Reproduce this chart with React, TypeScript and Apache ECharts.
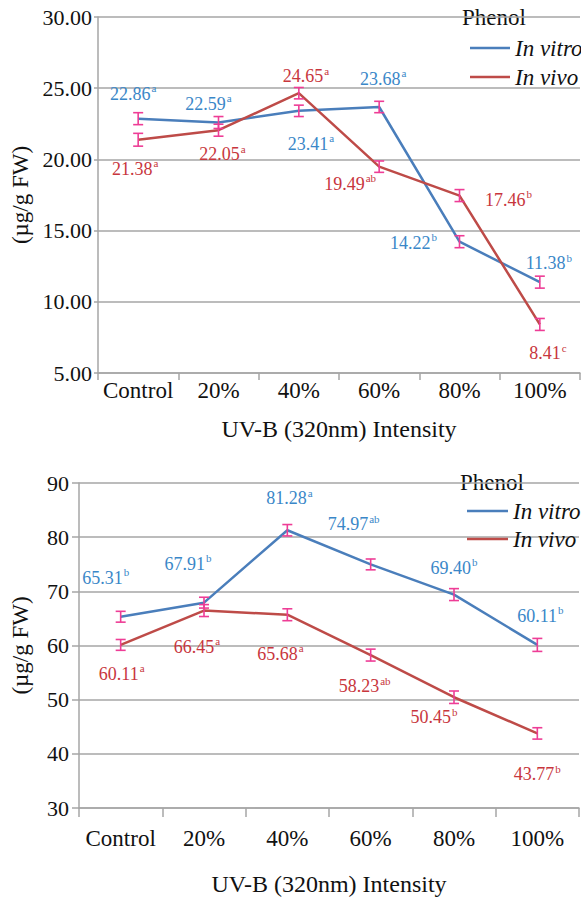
import React, { useEffect, useRef } from "react";
import * as echarts from "echarts";

const categories = ["Control", "20%", "40%", "60%", "80%", "100%"];

// Top chart
const topVitro = [22.86, 22.59, 23.41, 23.68, 14.22, 11.38];
const topVivo = [21.38, 22.05, 24.65, 19.49, 17.46, 8.41];
const topVitroErr = [0.42, 0.42, 0.4, 0.4, 0.42, 0.42];
const topVivoErr = [0.45, 0.42, 0.4, 0.4, 0.42, 0.42];
const topVitroLetters = ["a", "a", "a", "a", "b", "b"];
const topVivoLetters = ["a", "a", "a", "ab", "b", "c"];

// Bottom chart
const bottomVitro = [65.31, 67.91, 81.28, 74.97, 69.4, 60.11];
const bottomVivo = [60.11, 66.45, 65.68, 58.23, 50.45, 43.77];
const bottomVitroErr = [1.0, 1.0, 1.05, 1.0, 1.1, 1.2];
const bottomVivoErr = [1.0, 1.1, 1.1, 1.1, 1.15, 1.05];
const bottomVitroLetters = ["b", "b", "a", "ab", "b", "b"];
const bottomVivoLetters = ["a", "a", "a", "ab", "b", "b"];

// label offsets (style)
const topVitroLabelOffset = [[-5, -26], [-10, -20], [12, 32], [4, -29], [-46, 0], [9, -20]];
const topVivoLabelOffset = [[-3, 28], [4, 23], [7, -18], [-29, 16], [49, 3], [8, 28]];
const bottomVitroLabelOffset = [[-15, -40], [-16, -40], [2, -33], [-17, -41], [0, -28], [3, -30]];
const bottomVivoLabelOffset = [[1, 28], [-7, 35], [-7, 38], [-6, 30], [-20, 19], [0, 40]];

const FONT = "Liberation Serif, Times New Roman, serif";
const BLUE = "#4A7EBB";
const RED = "#BE4B48";
const BLUE_TXT = "#3A87C8";
const RED_TXT = "#C8363D";
const ERR = "#EE3D96";
const GRID = "#A6A6A6";

function lineSeries(name: string, values: number[], letters: string[], offsets: number[][], color: string, txtColor: string, idx: number) {
  return {
    type: "line",
    name,
    xAxisIndex: idx,
    yAxisIndex: idx,
    color,
    lineStyle: { color, width: 2.5 },
    itemStyle: { color },
    symbol: "circle",
    symbolSize: 0,
    z: 3,
    data: values.map((v, i) => ({
      value: v,
      label: {
        show: true,
        position: "inside",
        offset: offsets[i],
        align: "center",
        verticalAlign: "middle",
        fontFamily: FONT,
        formatter: `{v|${v.toFixed(2)}}{s|${letters[i]}}`,
        rich: {
          v: { fontSize: 18, fontFamily: FONT, color: txtColor, lineHeight: 20, verticalAlign: "bottom" },
          s: { fontSize: 11, fontFamily: FONT, color: txtColor, lineHeight: 20, verticalAlign: "top", padding: [0, 0, 0, 1] },
        },
      },
    })),
  };
}

function errSeries(name: string, values: number[], errs: number[], idx: number) {
  return {
    type: "custom",
    name,
    xAxisIndex: idx,
    yAxisIndex: idx,
    z: 5,
    encode: { x: 0, y: [1, 2] },
    data: values.map((v, i) => [i, v - errs[i], v + errs[i]]),
    renderItem: (params: any, api: any) => {
      const x = api.value(0);
      const lo = api.coord([x, api.value(1)]);
      const hi = api.coord([x, api.value(2)]);
      const w = 5;
      const style = { stroke: ERR, lineWidth: 1.6 };
      return {
        type: "group",
        children: [
          { type: "line", shape: { x1: lo[0], y1: lo[1], x2: hi[0], y2: hi[1] }, style },
          { type: "line", shape: { x1: hi[0] - w, y1: hi[1], x2: hi[0] + w, y2: hi[1] }, style },
          { type: "line", shape: { x1: lo[0] - w, y1: lo[1], x2: lo[0] + w, y2: lo[1] }, style },
        ],
      };
    },
  };
}

function xAxis(idx: number, labelMargin: number, nameGap: number, tickLen: number) {
  return {
    type: "category",
    gridIndex: idx,
    data: categories,
    boundaryGap: true,
    axisLine: { show: true, lineStyle: { color: GRID, width: 1.5 } },
    axisTick: { show: true, length: tickLen, lineStyle: { color: GRID, width: 1.5 } },
    axisLabel: { interval: 0, fontSize: 23, fontFamily: FONT, color: "#111", margin: labelMargin },
    name: "UV-B (320nm) Intensity",
    nameLocation: "middle",
    nameGap,
    nameTextStyle: { fontSize: 24, fontFamily: FONT, color: "#111" },
  };
}

function yAxis(idx: number, min: number, max: number, interval: number, digits: number, labelMargin: number, nameGap: number, tickLen: number) {
  return {
    type: "value",
    gridIndex: idx,
    min,
    max,
    interval,
    axisLine: { show: true, lineStyle: { color: GRID, width: 1.5 } },
    axisTick: { show: true, length: tickLen, lineStyle: { color: GRID, width: 1.5 } },
    splitLine: { show: true, lineStyle: { color: GRID, width: 1.5 } },
    axisLabel: {
      fontSize: 22,
      fontFamily: FONT,
      color: "#111",
      margin: labelMargin,
      formatter: (v: number) => v.toFixed(digits),
    },
    name: "(µg/g FW)",
    nameLocation: "middle",
    nameRotate: 90,
    nameGap,
    nameTextStyle: { fontSize: 23, fontFamily: FONT, color: "#111" },
  };
}

export default function App() {
  const ref = useRef<HTMLDivElement>(null);
  useEffect(() => {
    if (!ref.current) return;
    const chart = echarts.init(ref.current, undefined, { renderer: "svg" });
    const legendText = { fontSize: 23, fontStyle: "italic", fontFamily: FONT, color: "#111", lineHeight: 24 };
    chart.setOption({
      animation: false,
      backgroundColor: "#fff",
      textStyle: { fontFamily: FONT },
      grid: [
        { left: 98, top: 17, width: 482, height: 356 },
        { left: 79, top: 483, width: 500, height: 325 },
      ],
      xAxis: [xAxis(0, 6, 44, 7), xAxis(1, 19, 64, 9)],
      yAxis: [yAxis(0, 5, 30, 5, 2, 6, 66, 4), yAxis(1, 30, 90, 10, 0, 10, 47, 7)],
      legend: [
        {
          data: ["In vitro", "In vivo"],
          orient: "vertical",
          left: 465,
          top: 31,
          icon: "rect",
          itemWidth: 40,
          itemHeight: 2.5,
          itemGap: 5,
          textStyle: legendText,
        },
        {
          data: ["In vitro", "In vivo"],
          orient: "vertical",
          left: 462,
          top: 494,
          icon: "rect",
          itemWidth: 41,
          itemHeight: 2.5,
          itemGap: 4,
          textStyle: legendText,
        },
      ],
      graphic: [
        { type: "text", left: 462, top: 6, style: { text: "Phenol", fontSize: 23, fontFamily: FONT, fill: "#111" } },
        { type: "text", left: 460, top: 471, style: { text: "Phenol", fontSize: 23, fontFamily: FONT, fill: "#111" } },
      ],
      series: [
        lineSeries("In vitro", topVitro, topVitroLetters, topVitroLabelOffset, BLUE, BLUE_TXT, 0),
        lineSeries("In vivo", topVivo, topVivoLetters, topVivoLabelOffset, RED, RED_TXT, 0),
        errSeries("errTopVitro", topVitro, topVitroErr, 0),
        errSeries("errTopVivo", topVivo, topVivoErr, 0),
        lineSeries("In vitro", bottomVitro, bottomVitroLetters, bottomVitroLabelOffset, BLUE, BLUE_TXT, 1),
        lineSeries("In vivo", bottomVivo, bottomVivoLetters, bottomVivoLabelOffset, RED, RED_TXT, 1),
        errSeries("errBottomVitro", bottomVitro, bottomVitroErr, 1),
        errSeries("errBottomVivo", bottomVivo, bottomVivoErr, 1),
      ],
    });
    return () => chart.dispose();
  }, []);
  return (
    <div
      ref={ref}
      style={{ position: "fixed", left: 0, top: 0, width: 581, height: 899, background: "#fff" }}
    />
  );
}
